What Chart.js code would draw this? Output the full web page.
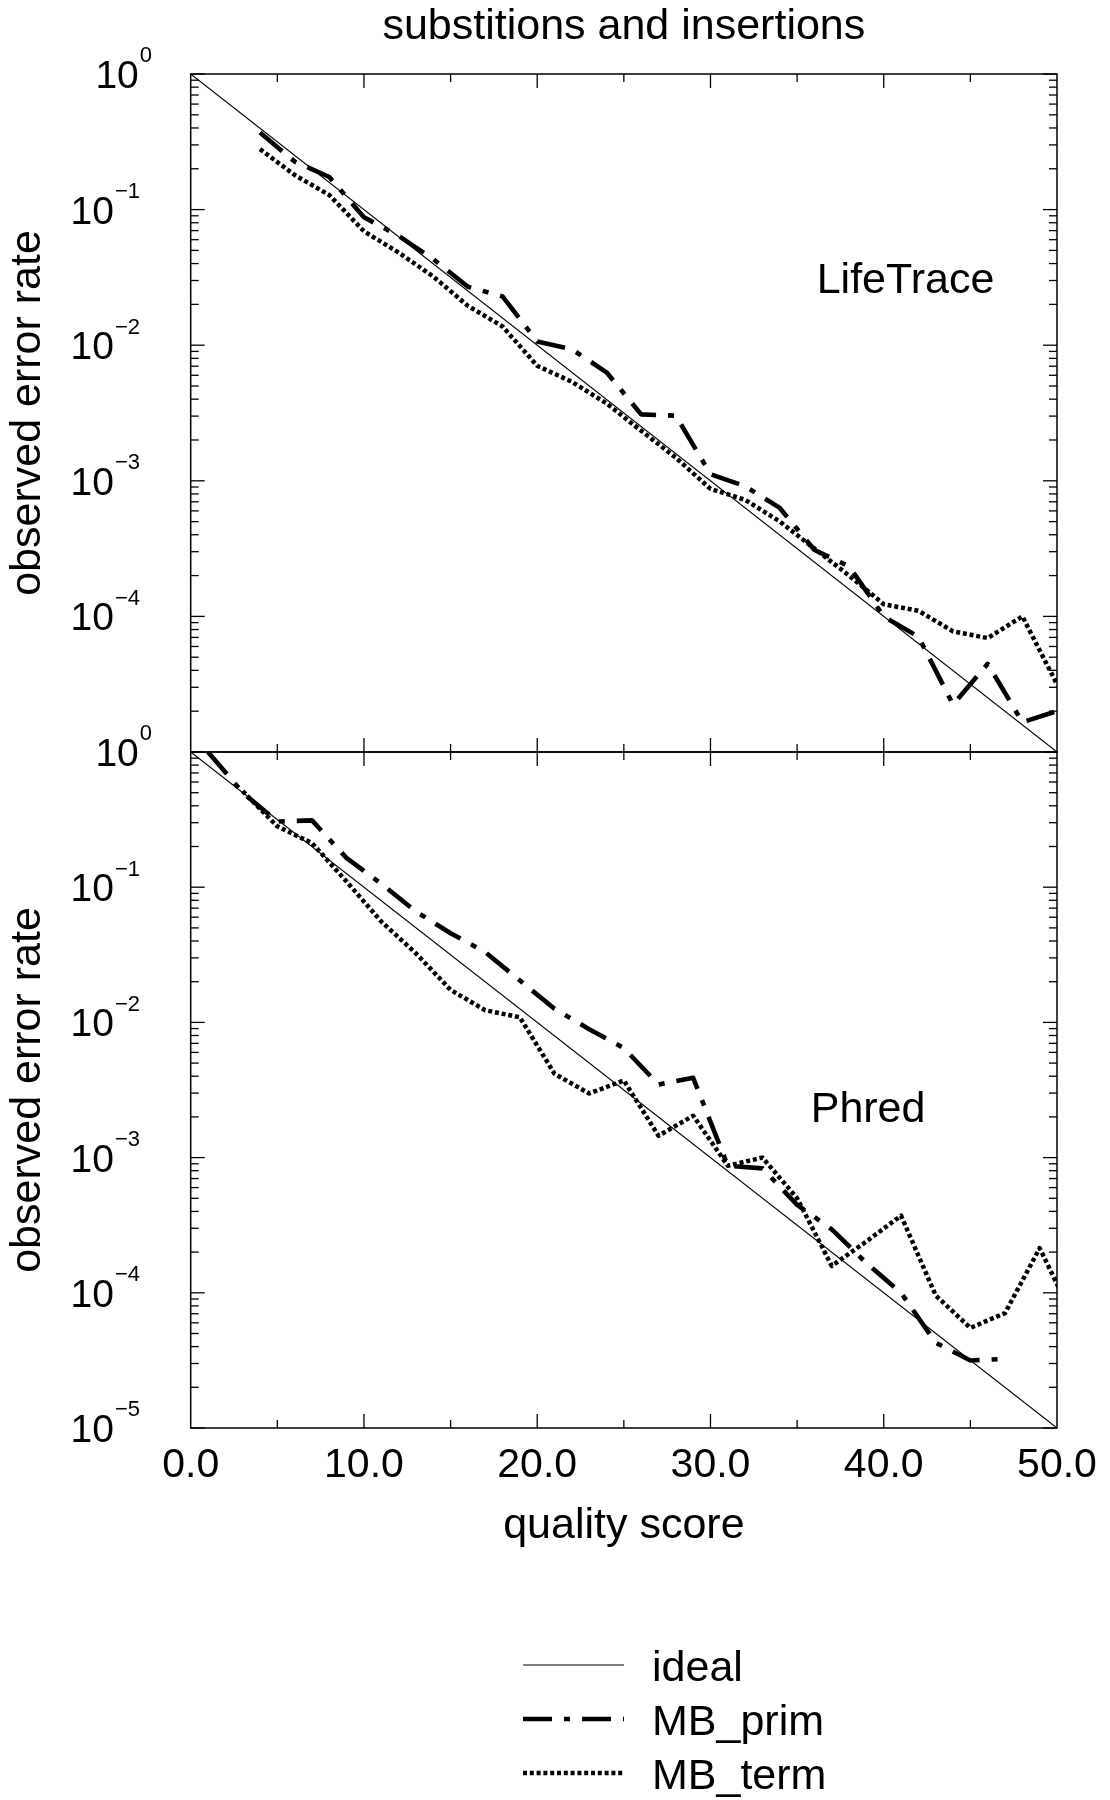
<!DOCTYPE html>
<html><head><meta charset="utf-8">
<script src="https://cdn.jsdelivr.net/npm/chart.js@4.4.1/dist/chart.umd.min.js"></script>
<style>
html,body{margin:0;padding:0;background:#fff;}
#wrap{position:relative;width:1110px;height:1800px;background:#fff;}
canvas{position:absolute;left:0;}
#cTop{top:0;}
#cBot{top:700px;}
</style></head><body>
<div id="wrap"><canvas id="cTop" width="1110" height="760"></canvas><canvas id="cBot" width="1110" height="1100"></canvas></div>
<script>
// ---------- data ----------
const idealQ = [0, 50];
const idealErr = [1, 1e-5];

// LifeTrace panel (even quality scores)
const lifeQ = [4,6,8,10,12,14,16,18,20,22,24,26,28,30,32,34,36,38,40,42,44,46,48,50];
const lifePrim = [0.370,0.226,0.174,0.0877,0.0640,0.0431,0.0270,0.0229,0.01064,0.00933,0.00631,0.00309,
                  0.00302,0.00112,0.000912,0.000631,0.000309,0.000234,0.000100,7.08e-5,2.24e-5,4.47e-5,1.66e-5,2.0e-5];
const lifeTerm = [0.279,0.180,0.128,0.0692,0.0482,0.0321,0.0195,0.01374,0.00705,0.00537,0.00372,0.00234,
                  0.00148,0.000871,0.000724,0.000501,0.000316,0.000200,0.000123,0.000110,7.76e-5,6.92e-5,1.0e-4,3.16e-5];

// Phred panel (odd quality scores)
const phredPrimQ = [1,3,5,7,9,11,13,15,17,19,21,23,25,27,29,31,33,35,37,39,41,43,45,47];
const phredPrim = [1.0,0.501,0.306,0.312,0.164,0.106,0.0661,0.0457,0.0331,0.0204,0.0126,0.00891,0.00646,
                   0.00347,0.00389,0.000871,0.000832,0.000447,0.000295,0.000166,0.000100,4.27e-5,3.16e-5,3.24e-5];
const phredTermQ = [3,5,7,9,11,13,15,17,19,21,23,25,27,29,31,33,35,37,39,41,43,45,47,49,51];
const phredTerm = [0.513,0.282,0.212,0.110,0.0557,0.0324,0.0174,0.0123,0.0109,0.00417,0.00298,0.00372,
                   0.00145,0.00204,0.000871,0.001,0.000501,0.000158,0.000240,0.000372,9.55e-5,5.5e-5,7.08e-5,0.000214,6.3e-5];

const topExps = [0,-1,-2,-3,-4];
const bottomExps = [0,-1,-2,-3,-4,-5];
const seriesNames = ['ideal','MB_prim','MB_term'];
const titleText = 'substitions and insertions';
const yTitle = 'observed error rate';
const xTitle = 'quality score';

// ---------- styles ----------
const FONT = '"Liberation Sans", Arial, Helvetica, sans-serif';
Chart.defaults.font.family = FONT;
Chart.defaults.color = '#000';
const styles = [
  {w:1.1, dash:[]},
  {w:4.6, dash:[29,12,6,12]},
  {w:4.5, dash:[4,2.8]}
];

function pts(xs, ys){ return xs.map((x,i)=>({x:x, y:ys[i]})); }
function makeSets(pq, pv, tq, tv){
  const arr = [pts(idealQ, idealErr), pts(pq, pv), pts(tq, tv)];
  return arr.map((d,i)=>({
    label: seriesNames[i], data: d, borderColor:'#000', backgroundColor:'#000',
    borderWidth: styles[i].w, borderDash: styles[i].dash, borderCapStyle:'butt',
    borderJoinStyle:'round', pointRadius:0, fill:false, tension:0
  }));
}

const panels = {
  top: {label:'LifeTrace', lx:816.7, ly:292.7, exps: topExps, legend:false},
  bottom: {label:'Phred', lx:810.7, ly:421.7, exps: bottomExps, legend:true}
};

const decor = {
  id:'decor',
  afterDraw(chart, args, opts){
    const P = panels[opts.panel];
    const ctx = chart.ctx, a = chart.chartArea, xs = chart.scales.x, ys = chart.scales.y;
    ctx.save();
    ctx.strokeStyle = '#000'; ctx.fillStyle = '#000';
    ctx.setLineDash([]);
    ctx.lineWidth = 1.5;
    ctx.strokeRect(a.left, a.top, a.right - a.left, a.bottom - a.top);
    const seg = (x1,y1,x2,y2)=>{ ctx.beginPath(); ctx.moveTo(x1,y1); ctx.lineTo(x2,y2); ctx.stroke(); };
    ctx.lineWidth = 1.3;
    // y ticks (log, major + minor)
    for (let e = -5; e <= 0; e++) {
      for (let m = 1; m <= 9; m++) {
        const v = m * Math.pow(10, e);
        if (v > ys.max * 1.0001 || v < ys.min * 0.9999) continue;
        const y = ys.getPixelForValue(v);
        const len = m === 1 ? 14 : 8;
        seg(a.left, y, a.left + len, y);
        seg(a.right, y, a.right - len, y);
      }
    }
    // x ticks
    for (let q = xs.min; q <= xs.max + 0.001; q += 5) {
      const x = xs.getPixelForValue(q);
      const len = (Math.round(q) % 10 === 0) ? 14 : 8;
      if (q > xs.min + 0.001 && q < xs.max - 0.001) {
        seg(x, a.top, x, a.top + len);
        seg(x, a.bottom, x, a.bottom - len);
      }
    }
    // y tick labels 10^e
    ctx.textAlign = 'left'; ctx.textBaseline = 'alphabetic';
    for (const e of P.exps) {
      const y = ys.getPixelForValue(Math.pow(10, e));
      const base = y + 14;
      const sup = e === 0 ? '0' : '\u2212' + String(-e);
      ctx.font = '22px ' + FONT;
      const sw = ctx.measureText(sup).width;
      const right = e === 0 ? 152 : 140;
      const sx = right - sw;
      ctx.fillText(sup, sx, base - 25.6);
      ctx.font = '39px ' + FONT;
      const mw = ctx.measureText('10').width;
      ctx.fillText('10', sx - 1 - mw, base);
    }
    // panel label
    ctx.font = '43px ' + FONT;
    ctx.fillText(P.label, P.lx, P.ly);
    // legend
    if (P.legend) {
      const rows = [965, 1019, 1073];
      chart.data.datasets.forEach((ds, i) => {
        const y = rows[i];
        ctx.lineWidth = ds.borderWidth;
        ctx.setLineDash(ds.borderDash || []);
        ctx.lineCap = 'butt';
        seg(523, y, 624, y);
        ctx.setLineDash([]);
        ctx.font = '43px ' + FONT;
        ctx.fillText(ds.label, 652, y + 15.5);
      });
    }
    ctx.restore();
  }
};

const yCommon = () => ({
  type:'logarithmic', min:1e-5, max:1,
  ticks:{display:false}, grid:{display:false, drawTicks:false}, border:{display:false},
  title:{display:true, text:yTitle, color:'#000', font:{size:43, lineHeight:1}, padding:{top:7, bottom:0}},
  afterFit(s){ s.width = 190.7; }
});

new Chart(document.getElementById('cTop'), {
  type:'line',
  data:{datasets: makeSets(lifeQ, lifePrim, lifeQ, lifeTerm)},
  options:{
    responsive:false, animation:false, devicePixelRatio:1,
    layout:{padding:{left:0, right:53, top:0, bottom:8}},
    plugins:{
      legend:{display:false}, tooltip:{enabled:false},
      title:{display:true, text:titleText, fullSize:false, color:'#000',
             font:{size:43, weight:'normal', lineHeight:1}, padding:{top:6, bottom:25}},
      decor:{panel:'top'}
    },
    scales:{
      x:{type:'linear', min:0, max:50, display:false},
      y: yCommon()
    }
  },
  plugins:[decor]
});

new Chart(document.getElementById('cBot'), {
  type:'line',
  data:{datasets: makeSets(phredPrimQ, phredPrim, phredTermQ, phredTerm)},
  options:{
    responsive:false, animation:false, devicePixelRatio:1,
    layout:{padding:{left:0, right:53, top:52, bottom:252}},
    plugins:{
      legend:{display:false}, tooltip:{enabled:false},
      decor:{panel:'bottom'}
    },
    scales:{
      x:{type:'linear', min:0, max:50,
         ticks:{stepSize:10, autoSkip:false, maxRotation:0, color:'#000', padding:17.3,
                font:{size:41, lineHeight:1}, callback:(v)=>Number(v).toFixed(1)},
         grid:{display:false, drawTicks:false}, border:{display:false},
         title:{display:true, text:xTitle, color:'#000', font:{size:43, lineHeight:1}, padding:{top:0, bottom:0.5}},
         afterFit(s){ s.height = 120; s.paddingLeft = 0; s.paddingRight = 0; }
      },
      y: yCommon()
    }
  },
  plugins:[decor]
});
</script>
</body></html>
